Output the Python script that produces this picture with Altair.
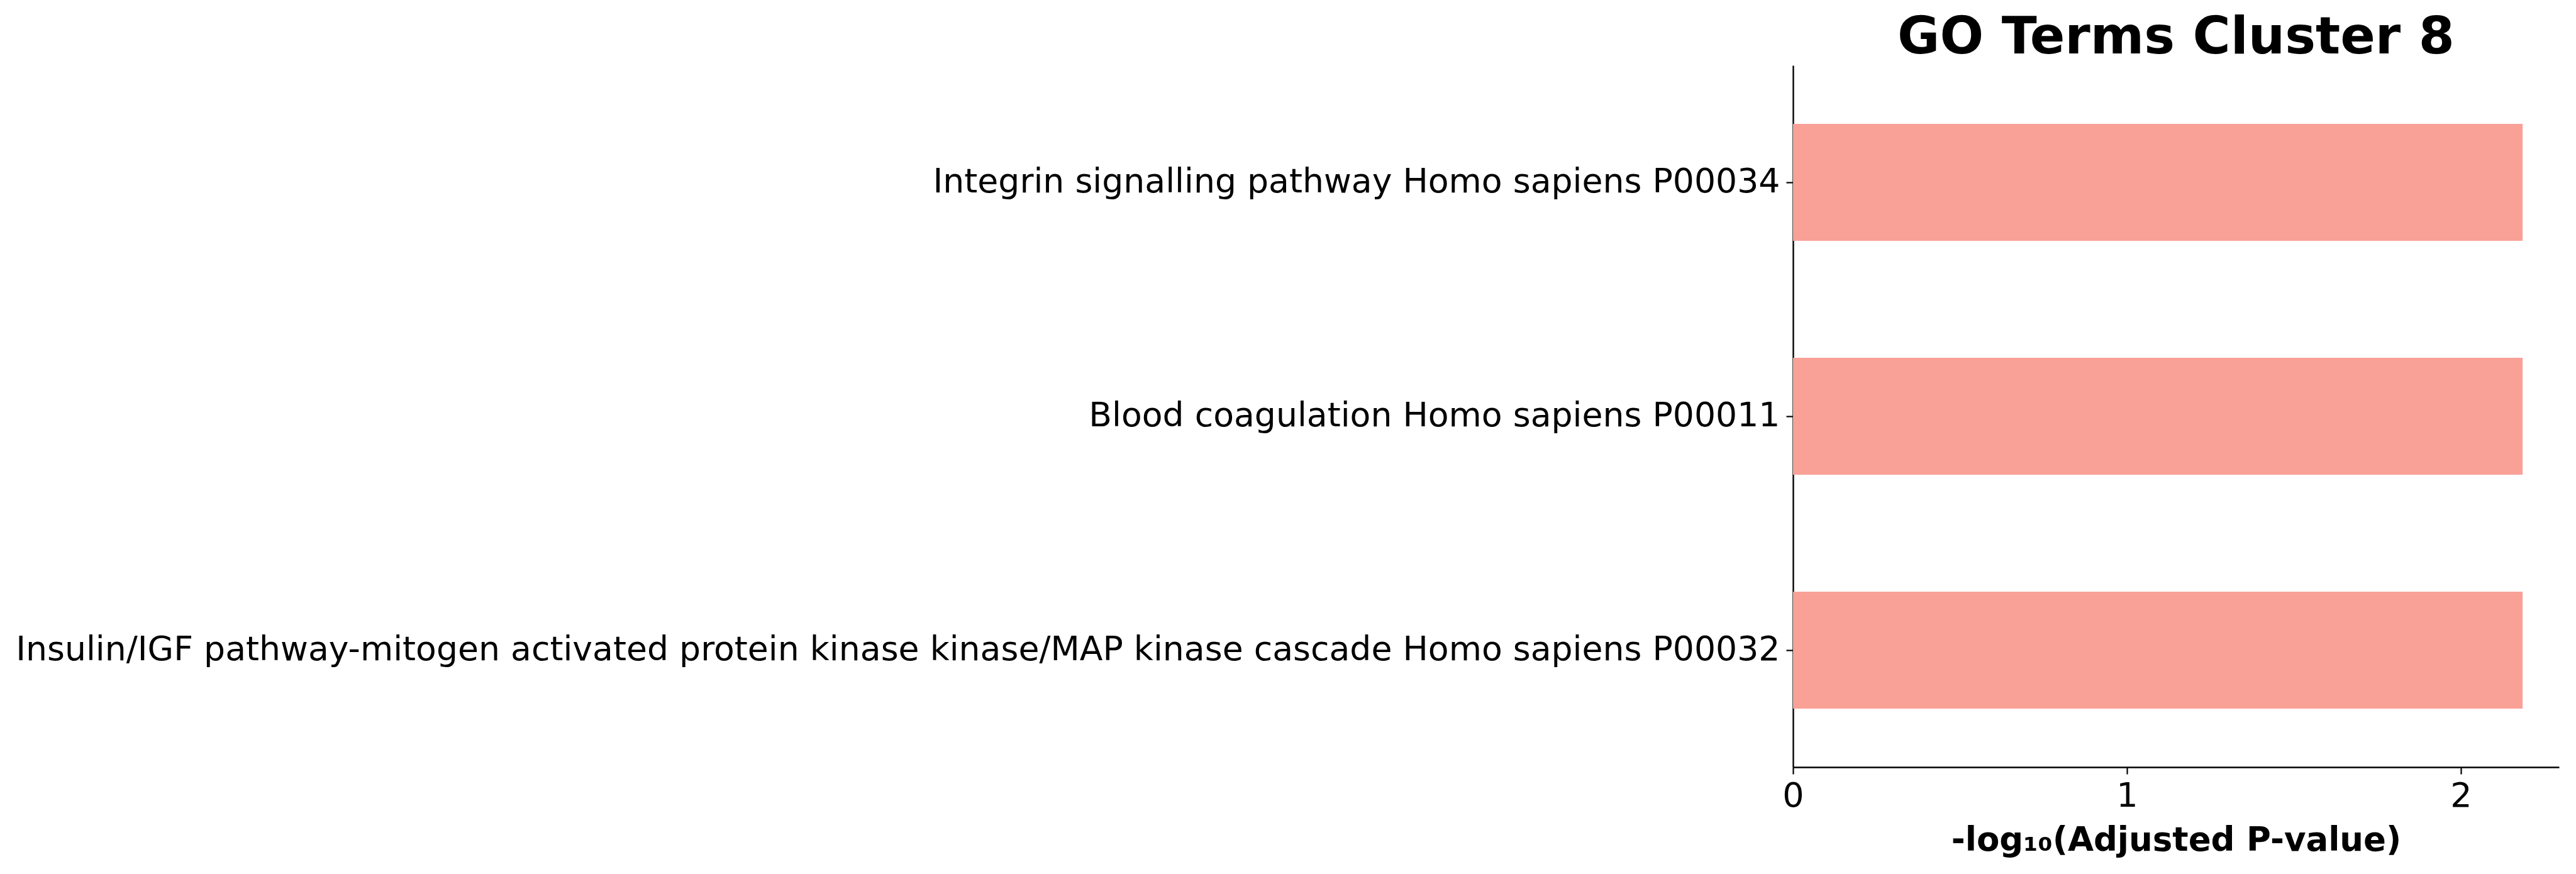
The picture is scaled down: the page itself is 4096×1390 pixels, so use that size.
import altair as alt
import pandas as pd

terms = [
    "Integrin signalling pathway Homo sapiens P00034",
    "Blood coagulation Homo sapiens P00011",
    "Insulin/IGF pathway-mitogen activated protein kinase kinase/MAP kinase cascade Homo sapiens P00032",
]
values = [2.185, 2.185, 2.185]
x_ticks = [0, 1, 2]

df = pd.DataFrame({"term": terms, "value": values})

FONT = "DejaVu Sans"

chart = (
    alt.Chart(df)
    .mark_bar(color="#F9A197")
    .encode(
        x=alt.X(
            "value:Q",
            scale=alt.Scale(domain=[0, 2.294], nice=False, zero=True),
            axis=alt.Axis(
                title="-log₁₀(Adjusted P-value)",
                values=x_ticks,
                format="d",
                grid=False,
                domainColor="black",
                domainWidth=2.4,
                tickColor="black",
                tickWidth=2.2,
                tickSize=11,
                labelFont=FONT,
                labelFontSize=54,
                labelColor="black",
                labelPadding=8,
                labelFlush=False,
                titleFont=FONT,
                titleFontSize=53,
                titleFontWeight="bold",
                titleColor="black",
                titleBaseline="alphabetic",
                titleY=132,
            ),
        ),
        y=alt.Y(
            "term:N",
            sort=terms,
            scale=alt.Scale(paddingInner=0.5, paddingOuter=0.25),
            axis=alt.Axis(
                title=None,
                grid=False,
                domainColor="black",
                domainWidth=2.4,
                tickColor="black",
                tickWidth=2.2,
                tickSize=11,
                labelFont=FONT,
                labelFontSize=53.65,
                labelColor="black",
                labelPadding=10,
                labelLimit=0,
            ),
        ),
    )
    .properties(
        width=1218,
        height=1116,
        background="white",
        title=alt.TitleParams(
            "GO Terms Cluster 8",
            font=FONT,
            fontSize=82,
            fontWeight="bold",
            color="black",
            anchor="middle",
            frame="group",
            baseline="alphabetic",
            offset=19,
            dy=82,
        ),
        autosize=alt.AutoSizeParams(type="none"),
        padding={"left": 2851, "top": 104, "right": 27, "bottom": 170},
    )
    .configure_view(stroke="transparent", strokeWidth=0)
)

chart.save("out.html", embed_options={"renderer": "svg", "actions": False})
